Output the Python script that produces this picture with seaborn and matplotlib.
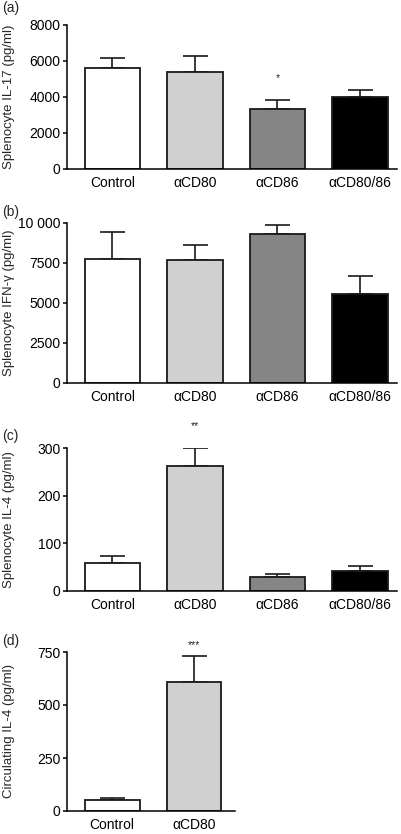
import matplotlib
matplotlib.use('Agg')
import matplotlib.pyplot as plt
import matplotlib.transforms as mtransforms
import seaborn as sns
import numpy as np

# data (mean and top of the SEM bar)
groups = ['Control', 'αCD80', 'αCD86', 'αCD80/86']
il17_mean = [5600, 5400, 3310, 4010]
il17_upper = [6190, 6280, 3830, 4400]
ifng_mean = [7760, 7700, 9310, 5580]
ifng_upper = [9450, 8650, 9850, 6700]
il4_spl_mean = [58, 262, 29, 41]
il4_spl_upper = [74, 299, 35, 53]
circ_groups = ['Control', 'αCD80']
il4_circ_mean = [52, 610]
il4_circ_upper = [63, 733]

bar_colors = {'Control': '#ffffff', 'αCD80': '#d0d0d0',
              'αCD86': '#858585', 'αCD80/86': '#000000'}

sns.set_style('ticks')
plt.rcParams['font.family'] = ['Liberation Sans', 'DejaVu Sans']

W, H = 402, 834
fig = plt.figure(figsize=(W / 100, H / 100), dpi=100)


def add_axes(left, top, right, bottom):
    return fig.add_axes([left / W, 1 - bottom / H, (right - left) / W, (bottom - top) / H])


def draw_panel(ax, names, means, uppers, ylabel, ymax, yticks, yticklabels, xmax, stars):
    n = len(names)
    sns.barplot(x=names, y=means, hue=names, order=names, palette=bar_colors,
                saturation=1, width=0.67, edgecolor='#1a1a1a', linewidth=1.3,
                errorbar=None, legend=False, ax=ax, zorder=2)
    means = np.array(means)
    uppers = np.array(uppers)
    ax.errorbar(np.arange(n), means, yerr=[np.zeros(n), uppers - means],
                fmt='none', ecolor='#1a1a1a', elinewidth=1.2, capsize=9,
                capthick=1.2, zorder=1)
    for name, (txt, yv) in stars.items():
        ax.text(names.index(name), yv, txt, ha='center', va='center',
                fontsize=7.5, clip_on=False)
    ax.set_xlim(-0.55, xmax)
    ax.set_ylim(0, ymax)
    ax.set_yticks(yticks)
    ax.set_yticklabels(yticklabels)
    ax.spines[['top', 'right']].set_visible(False)
    for s in ['left', 'bottom']:
        ax.spines[s].set_linewidth(1.1)
        ax.spines[s].set_color('black')
    ax.tick_params(axis='y', length=3, width=1.1, pad=1.5, labelsize=10, colors='black')
    ax.tick_params(axis='x', length=0, pad=5, labelsize=10, colors='black')
    ax.set_xlabel('')
    ax.set_ylabel(ylabel, fontsize=9.5)
    blend = mtransforms.blended_transform_factory(fig.transFigure, ax.transAxes)
    ax.yaxis.set_label_coords(15 / W, 0.5, transform=blend)


ax_a = add_axes(67, 25, 397, 169)
draw_panel(ax_a, groups, il17_mean, il17_upper, 'Splenocyte IL-17 (pg/ml)', 8000,
           [0, 2000, 4000, 6000, 8000], ['0', '2000', '4000', '6000', '8000'],
           3.45, {'αCD86': ('*', 5070)})

ax_b = add_axes(67, 223, 397, 383)
draw_panel(ax_b, groups, ifng_mean, ifng_upper, 'Splenocyte IFN-γ (pg/ml)', 10000,
           [0, 2500, 5000, 7500, 10000], ['0', '2500', '5000', '7500', '10 000'],
           3.45, {})

ax_c = add_axes(67, 448, 397, 591)
draw_panel(ax_c, groups, il4_spl_mean, il4_spl_upper, 'Splenocyte IL-4 (pg/ml)', 300,
           [0, 100, 200, 300], ['0', '100', '200', '300'],
           3.45, {'αCD80': ('**', 347)})

ax_d = add_axes(67, 652, 235, 811)
draw_panel(ax_d, circ_groups, il4_circ_mean, il4_circ_upper, 'Circulating IL-4 (pg/ml)', 750,
           [0, 250, 500, 750], ['0', '250', '500', '750'],
           1.5, {'αCD80': ('***', 783)})

for lab, yc in [('(a)', 8), ('(b)', 212), ('(c)', 436), ('(d)', 641)]:
    fig.text(2 / W, 1 - yc / H, lab, ha='left', va='center', fontsize=10)

fig.savefig('out.png', dpi=100)
